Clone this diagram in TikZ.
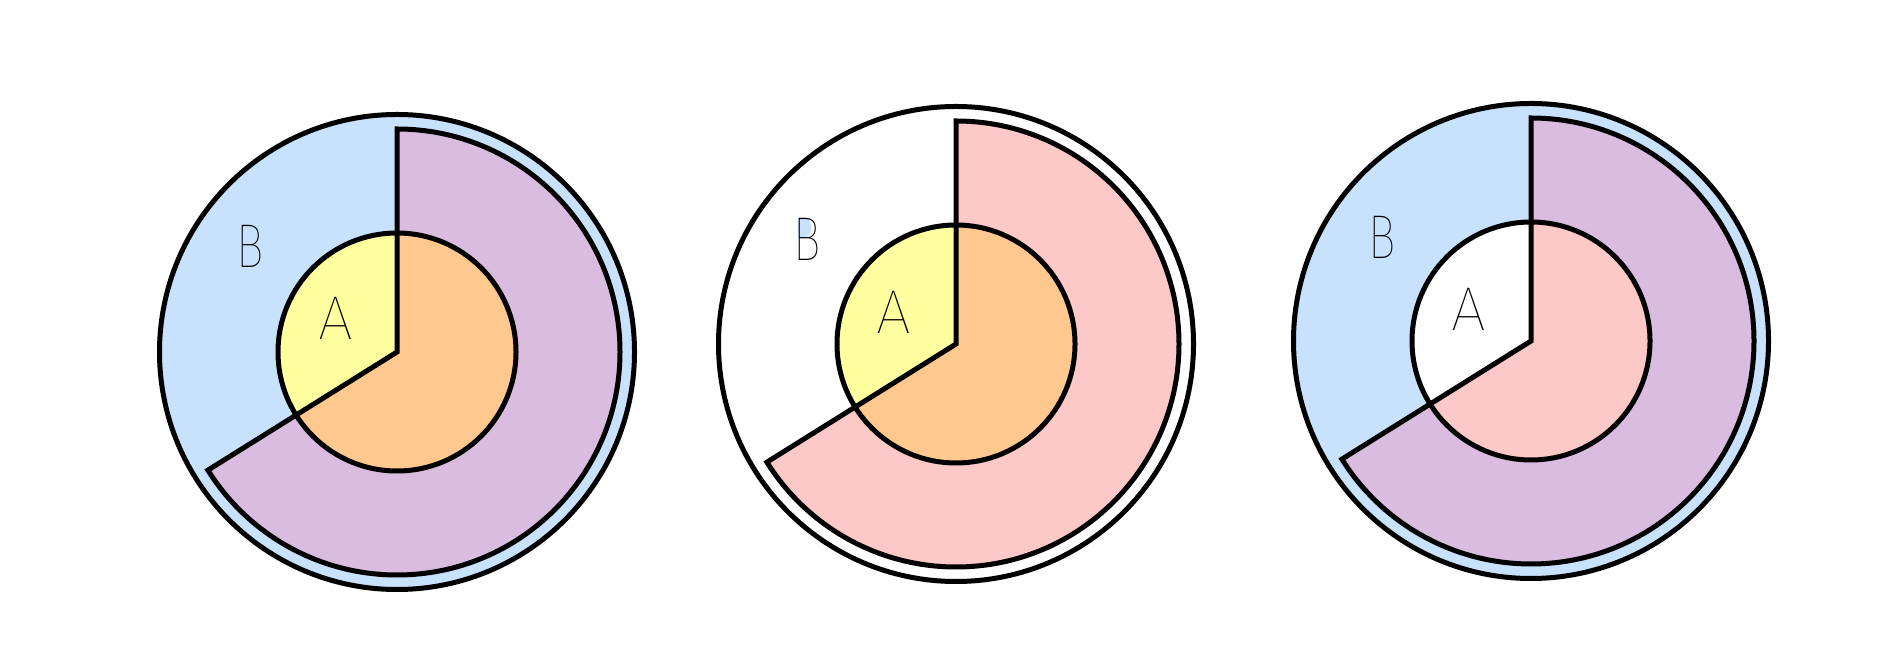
\documentclass[tikz,border=0pt]{standalone}
\usepackage{fontspec}
\newfontfamily\thinfont{Fira Sans}[UprightFont={* Thin}]
\definecolor{bblue}{RGB}{200,226,253}
\definecolor{bpurple}{RGB}{217,188,224}
\definecolor{bpink}{RGB}{253,200,200}
\definecolor{byellow}{RGB}{255,255,160}
\definecolor{borange}{RGB}{255,200,143}
\tikzset{
  edge/.style={line width=5pt, line join=miter},
  lbl/.style={font=\thinfont\fontsize{62}{62}\selectfont, inner sep=0pt, text=black}
}
\begin{document}
\begin{tikzpicture}[x=1pt,y=1pt]
\useasboundingbox (0,0) rectangle (1902,655);
\foreach \cx/\cy/\oc/\sc/\ia/\ib in {397/303/bblue/bpurple/byellow/borange, 956/311/white/bpink/byellow/borange, 1531/314/bblue/bpurple/white/bpink}{
  \begin{scope}[shift={(\cx,\cy)}]
    \fill[\oc] (0,0) circle (237.5);
    \fill[\sc] (0,0) -- (90:223) arc (90:-148:223) -- cycle;
    \fill[\ia] (0,0) circle (119);
    \fill[\ib] (0,0) -- (90:119) arc (90:-148:119) -- cycle;
    \draw[edge] (0,0) circle (237.5);
    \draw[edge] (0,0) circle (119);
    \draw[edge] (0,0) -- (90:223) arc (90:-148:223) -- cycle;
  \end{scope}
}
% blue fill in the upper bowl of the middle B
\fill[bblue] (798,437) -- (806,437) .. controls (813,436) and (813,419) .. (806,418) -- (798,418) -- cycle;
\node[lbl, xscale=0.75] (B1) at (250,409) {B};
\node[lbl] (A1) at (336,337) {A};
\node[lbl, xscale=0.75] (B2) at (807,416) {B};
\node[lbl] (A2) at (894,343) {A};
\node[lbl, xscale=0.75] (B3) at (1382,418) {B};
\node[lbl] (A3) at (1469,346) {A};
\end{tikzpicture}
\end{document}
